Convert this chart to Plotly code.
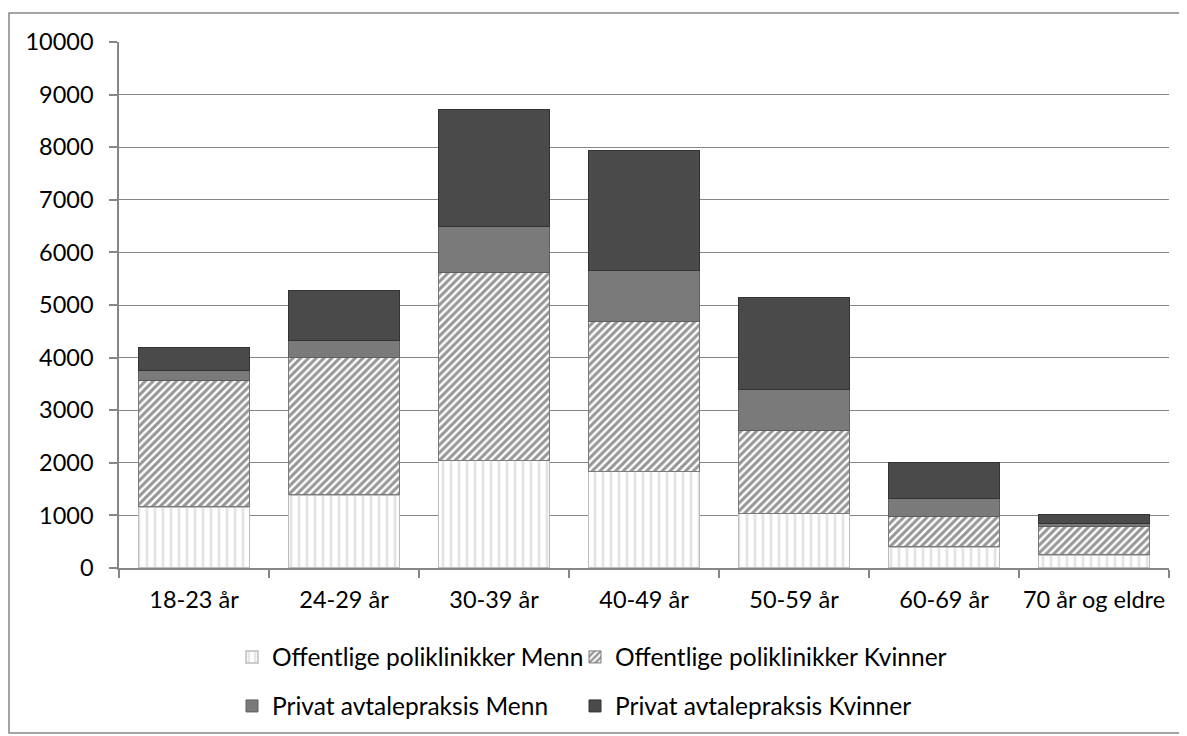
import plotly.graph_objects as go

categories = ["18-23 år", "24-29 år", "30-39 år", "40-49 år", "50-59 år", "60-69 år", "70 år og eldre"]
off_menn = [1160, 1390, 2050, 1840, 1040, 400, 250]
off_kvinner = [2400, 2610, 3560, 2840, 1580, 570, 530]
priv_menn = [190, 330, 880, 970, 780, 360, 60]
priv_kvinner = [450, 940, 2220, 2280, 1750, 685, 180]
y_ticks = list(range(0, 10001, 1000))
y_ticklabels = [str(v) for v in y_ticks]

FONT = "Lato"
FS = 23.5
LFS = 24.5
# page body has an 8px margin; figure coordinates = page coordinates - 8
W, H = 1179, 728
OFF = 8

fig = go.Figure()
fig.add_trace(go.Bar(
    x=categories, y=off_menn, name="Offentlige poliklinikker Menn", legend="legend",
    marker=dict(color="white", line=dict(color="#bdbdbd", width=1.5),
                pattern=dict(shape="|", fgcolor="#cacaca", bgcolor="white", size=8, solidity=0.35)),
))
fig.add_trace(go.Bar(
    x=categories, y=off_kvinner, name="Offentlige poliklinikker Kvinner", legend="legend2",
    marker=dict(color="white", line=dict(color="#7a7a7a", width=1),
                pattern=dict(shape="/", fgcolor="#2e2e2e", bgcolor="white", size=5.5, solidity=0.55)),
))
fig.add_trace(go.Bar(
    x=categories, y=priv_menn, name="Privat avtalepraksis Menn", legend="legend3",
    marker=dict(color="#7a7a7a", line=dict(color="#5e5e5e", width=1)),
))
fig.add_trace(go.Bar(
    x=categories, y=priv_kvinner, name="Privat avtalepraksis Kvinner", legend="legend4",
    marker=dict(color="#4a4a4a", line=dict(color="#333333", width=1)),
))


def leg(xp, yp):
    return dict(orientation="h", xref="container", yref="container",
                x=(xp - 48) / W, xanchor="left", y=1 - (yp - OFF) / H, yanchor="middle",
                font=dict(family=FONT, size=LFS, color="black"),
                bgcolor="rgba(0,0,0,0)")


left, right, top, bottom = 119 - OFF, 1169 - OFF, 42 - OFF, 568 - OFF
fig.update_layout(
    width=W, height=H,
    barmode="stack", bargap=0.26,
    plot_bgcolor="white", paper_bgcolor="white",
    font=dict(family=FONT, size=FS, color="black"),
    margin=dict(l=left, r=W - right, t=top, b=H - bottom, pad=0, autoexpand=False),
    showlegend=True,
    legend=leg(272, 657),
    legend2=leg(615, 657),
    legend3=leg(272, 706),
    legend4=leg(615, 706),
    xaxis=dict(showline=True, linecolor="#868686", linewidth=1.5, automargin=False,
               tickangle=0,
               ticks="outside", tickson="boundaries", ticklen=8, tickcolor="#868686",
               tickwidth=1.5, showgrid=False, ticklabelstandoff=10,
               tickfont=dict(family=FONT, size=FS, color="black")),
    yaxis=dict(range=[0, 10000], tickvals=y_ticks, ticktext=y_ticklabels, showline=True,
               automargin=False,
               linecolor="#868686", linewidth=1.5, ticks="outside", ticklen=8,
               tickcolor="#868686", tickwidth=1.5,
               showgrid=True, gridcolor="#868686", gridwidth=1.2, zeroline=False,
               ticklabelstandoff=11,
               tickfont=dict(family=FONT, size=FS, color="black")),
    shapes=[dict(type="rect", xref="paper", yref="paper",
                 x0=(1 - left) / (right - left), x1=(1177 - left) / (right - left),
                 y0=(bottom - 725) / (bottom - top), y1=(bottom - 5) / (bottom - top),
                 line=dict(color="#868686", width=1.5), fillcolor="rgba(0,0,0,0)", layer="below")],
)

fig.write_html("out.html")
